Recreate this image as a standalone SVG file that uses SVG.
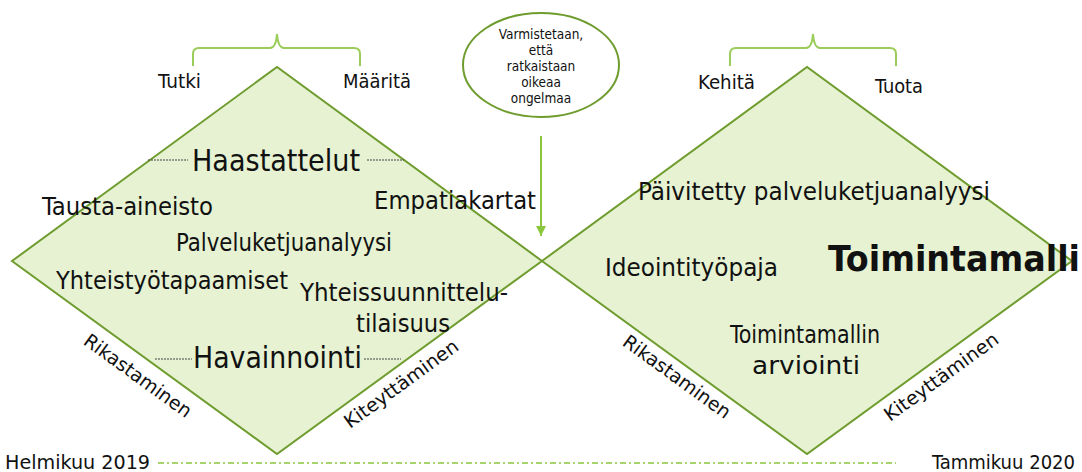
<svg xmlns="http://www.w3.org/2000/svg" width="1082" height="472" viewBox="0 0 1082 472">
<style>
text{font-family:"DejaVu Sans Condensed","DejaVu Sans","Liberation Sans",sans-serif;fill:#111}
.dia{fill:#e6f2d2;stroke:#6f9c2e;stroke-width:2}
.brace{fill:none;stroke:#9acd5a;stroke-width:2}
.dash{stroke:#444;stroke-width:1;stroke-dasharray:2 1}
.t22{font-size:25px}
.t26{font-size:30px}
.t18{font-size:20px}
.t17{font-size:19px}
.t12{font-size:13.5px}
</style>
<defs>
<marker id="ah2" markerWidth="12" markerHeight="12" refX="10" refY="5" orient="auto" markerUnits="userSpaceOnUse"><path d="M0,0 L10,5 L0,10 Z" fill="#8cc63f"/></marker>
</defs>
<g id="diamond-left"><polygon class="dia" points="12,261 277,67 542,261 277,454"/></g>
<g id="diamond-right"><polygon class="dia" points="542,261 807,67 1072,261 807,454"/></g>
<g id="brace-left"><path class="brace" d="M193,66 L193,54 Q193,48 199,48 L270,48 Q276,48 277,34 Q278,48 284,48 L354,48 Q360,48 360,54 L360,66"/></g>
<g id="brace-right"><path class="brace" d="M730,66 L730,54 Q730,48 736,48 L806,48 Q812,48 813,34 Q814,48 820,48 L890,48 Q896,48 896,54 L896,66"/></g>
<g id="ellipse-node"><ellipse cx="541" cy="65" rx="78" ry="52" fill="#fff" stroke="#6f9c2e" stroke-width="2"/>
<text class="t12" text-anchor="middle"><tspan x="541" y="39">Varmistetaan,</tspan><tspan x="541" y="55">että</tspan><tspan x="541" y="71">ratkaistaan</tspan><tspan x="541" y="87">oikeaa</tspan><tspan x="541" y="103">ongelmaa</tspan></text></g>
<g id="connectors">
<line x1="541" y1="136" x2="541" y2="236" stroke="#8cc63f" stroke-width="2" marker-end="url(#ah2)"/>
<line x1="158" y1="463" x2="896" y2="463" stroke="#8cc63f" stroke-width="1.5" stroke-dasharray="6 3 2 3"/>
<line class="dash" x1="148" y1="160" x2="188" y2="160"/>
<line class="dash" x1="367" y1="160" x2="404" y2="160"/>
<line class="dash" x1="155" y1="359" x2="192" y2="359"/>
<line class="dash" x1="364" y1="359" x2="401" y2="359"/>
</g>
<g id="labels-left">
<text class="t18" x="158" y="88" textLength="43" lengthAdjust="spacingAndGlyphs">Tutki</text>
<text class="t18" x="343" y="88" textLength="68" lengthAdjust="spacingAndGlyphs">Määritä</text>
<text class="t26" x="192" y="171" textLength="168" lengthAdjust="spacingAndGlyphs">Haastattelut</text>
<text class="t22" x="42" y="215" textLength="171" lengthAdjust="spacingAndGlyphs">Tausta-aineisto</text>
<text class="t22" x="374" y="209" textLength="162" lengthAdjust="spacingAndGlyphs">Empatiakartat</text>
<text class="t22" x="176" y="251" textLength="216" lengthAdjust="spacingAndGlyphs">Palveluketjuanalyysi</text>
<text class="t22" x="56" y="289" textLength="232" lengthAdjust="spacingAndGlyphs">Yhteistyötapaamiset</text>
<text class="t22" x="300" y="301" textLength="208" lengthAdjust="spacingAndGlyphs">Yhteissuunnittelu-</text>
<text class="t22" x="356" y="332" textLength="94" lengthAdjust="spacingAndGlyphs">tilaisuus</text>
<text class="t26" x="193" y="368" textLength="169" lengthAdjust="spacingAndGlyphs">Havainnointi</text>
<text class="t17" text-anchor="middle" transform="translate(134,381) rotate(36)" textLength="128" lengthAdjust="spacingAndGlyphs">Rikastaminen</text>
<text class="t17" text-anchor="middle" transform="translate(405,389) rotate(-36)" textLength="136" lengthAdjust="spacingAndGlyphs">Kiteyttäminen</text>
<text class="t17" x="5" y="469" textLength="145" lengthAdjust="spacingAndGlyphs">Helmikuu 2019</text>
</g>
<g id="labels-right">
<text class="t18" x="698" y="89" textLength="57" lengthAdjust="spacingAndGlyphs">Kehitä</text>
<text class="t18" x="875" y="93" textLength="48" lengthAdjust="spacingAndGlyphs">Tuota</text>
<text class="t22" x="638" y="200" textLength="352" lengthAdjust="spacingAndGlyphs">Päivitetty palveluketjuanalyysi</text>
<text class="t22" x="605" y="276" textLength="173" lengthAdjust="spacingAndGlyphs">Ideointityöpaja</text>
<text x="828" y="271" font-size="36" font-weight="bold" textLength="252" lengthAdjust="spacingAndGlyphs">Toimintamalli</text>
<text class="t22" x="730" y="343" textLength="150" lengthAdjust="spacingAndGlyphs">Toimintamallin</text>
<text class="t22" x="752" y="374" textLength="108" lengthAdjust="spacingAndGlyphs">arviointi</text>
<text class="t17" text-anchor="middle" transform="translate(673,382) rotate(36)" textLength="128" lengthAdjust="spacingAndGlyphs">Rikastaminen</text>
<text class="t17" text-anchor="middle" transform="translate(945,382) rotate(-36)" textLength="136" lengthAdjust="spacingAndGlyphs">Kiteyttäminen</text>
<text class="t17" x="932" y="469" textLength="143" lengthAdjust="spacingAndGlyphs">Tammikuu 2020</text>
</g>
</svg>
